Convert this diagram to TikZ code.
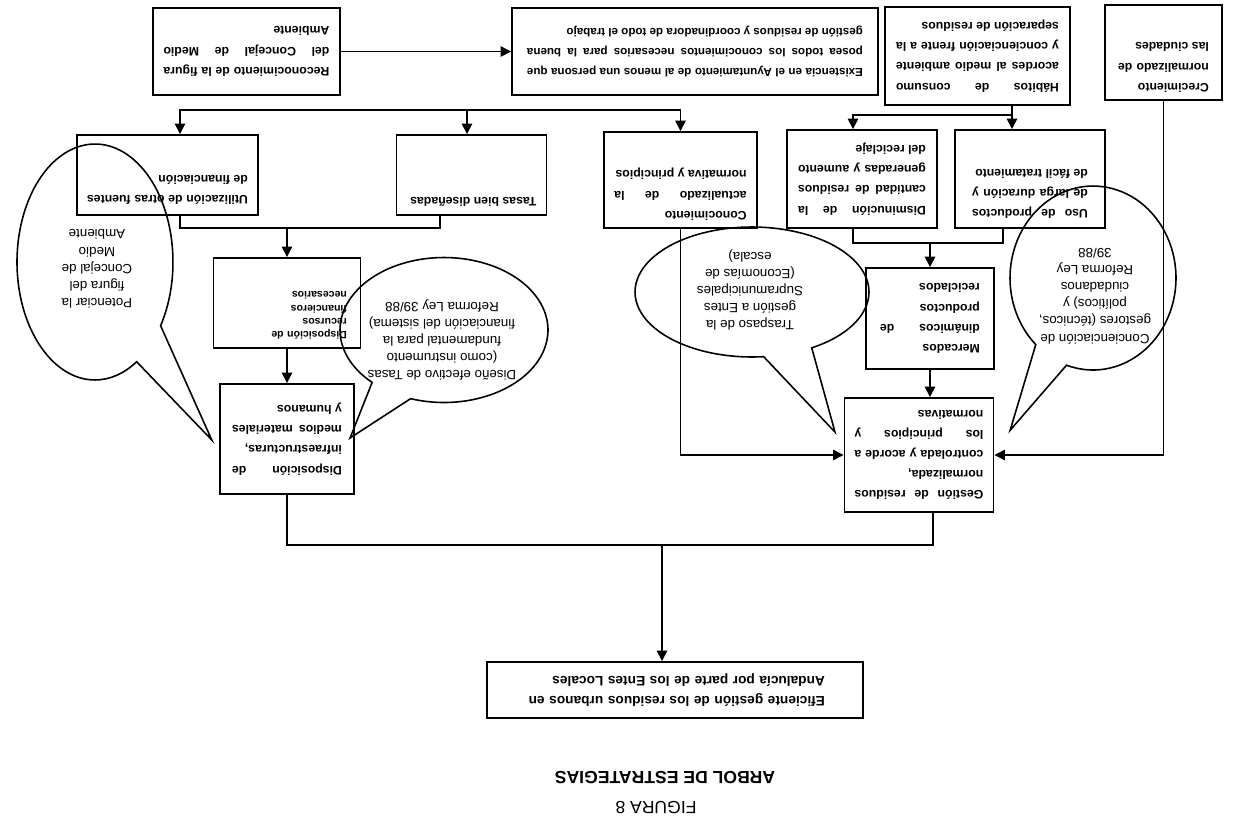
\documentclass[tikz,border=0pt]{standalone}
\usepackage{fontspec}
\setmainfont{Liberation Sans}
\usetikzlibrary{arrows.meta,shapes.geometric,shapes.callouts}

\tikzset{
  caja/.style={draw, line width=1.1pt, align=justify, inner xsep=0.2cm, inner ysep=0.1cm,
    font=\bfseries\fontsize{7}{11.5}\selectfont},
  globo/.style={ellipse callout, draw, line width=0.9pt, inner sep=0pt, callout pointer arc=25},
  globotexto/.style={align=center, inner sep=0pt, font=\fontsize{7.6}{9.8}\selectfont},
  flecha/.style={line width=0.8pt, -{Triangle[length=6pt,width=6pt]}},
  linea/.style={line width=0.8pt}
}
\newcommand{\relleno}[1]{\rule[-#1]{0pt}{#1}}

\begin{document}
\begin{tikzpicture}[x=0.02cm, y=0.02cm]
\begin{scope}[rotate=180, transform shape]
\useasboundingbox (0,0) rectangle (1236,835);

% nivel inferior
\node[caja, text width=3.32cm, minimum width=3.74cm, minimum height=1.74cm] (reco) at (989.5,51.5)
  {Reconocimiento de la figura\linebreak del Concejal de Medio\linebreak Ambiente};
\node[caja, font=\bfseries\fontsize{6.6}{11.5}\selectfont, text width=6.72cm, minimum width=7.32cm, minimum height=1.74cm] (exis) at (541,51.5)
  {Existencia en el Ayuntamiento de al menos una persona que\linebreak posea todos los conocimientos necesarios para la buena\linebreak gestión de residuos y coordinadora de todo el trabajo};
\node[caja, text width=3.26cm, minimum width=3.7cm, minimum height=1.96cm] (habi) at (258.5,56)
  {Hábitos de consumo\linebreak acordes al medio ambiente\linebreak y concienciación frente a la\linebreak separación de residuos};
\node[caja, text width=1.82cm, minimum width=2.34cm, minimum height=1.9cm] (crec) at (72.5,52.5)
  {Crecimiento\linebreak normalizado de\linebreak las ciudades\relleno{0.6cm}};

% segundo nivel
\node[caja, text width=3.22cm, minimum width=3.58cm, minimum height=1.6cm] (util) at (1068.5,175)
  {Utilización de otras fuentes\linebreak de financiación\relleno{0.6cm}};
\node[caja, text width=2.6cm, minimum width=2.86cm, minimum height=1.6cm] (tasa) at (764.5,175)
  {Tasas bien diseñadas\relleno{1.08cm}};
\node[caja, text width=2.65cm, minimum width=2.9cm, minimum height=1.92cm] (cono) at (555.5,180)
  {Conocimiento\linebreak actualizado de la\linebreak normativa y principios\relleno{0.62cm}};
\node[caja, text width=2.56cm, minimum width=3cm, minimum height=1.96cm] (dism) at (374,179)
  {Disminución de la\linebreak cantidad de residuos\linebreak generadas y aumento\linebreak del reciclaje};
\node[caja, text width=2.32cm, minimum width=3cm, minimum height=1.96cm] (uso) at (206,179)
  {Uso de productos\linebreak de larga duración y\linebreak de fácil tratamiento\relleno{0.6cm}};

% tercer nivel
\node[caja, align=left, font=\bfseries\fontsize{6}{7.5}\selectfont, text width=2.4cm,
  minimum width=2.94cm, minimum height=1.8cm] (recu) at (949,303)
  {Disposición de\\recursos\\financieros\\necesarios\relleno{0.5cm}};
\node[caja, text width=2.2cm, minimum width=2.68cm, minimum height=2.2cm] (infr) at (949,439)
  {Disposición de\linebreak infraestructuras,\linebreak medios materiales\linebreak y humanos};
\node[caja, text width=2cm, minimum width=2.56cm, minimum height=2.02cm] (merc) at (306,318.5)
  {Mercados\linebreak dinámicos de\linebreak productos\linebreak reciclados};
\node[caja, text width=2.58cm, minimum width=2.96cm, minimum height=2.28cm] (gest) at (317,455)
  {Gestión de residuos\linebreak normalizada,\linebreak controlada y acorde a\linebreak los principios y\linebreak normativas};

% objetivo
\node[caja, align=left, font=\bfseries\fontsize{7.8}{11.4}\selectfont, text width=6cm,
  minimum width=7.52cm, minimum height=1.12cm] (efic) at (561,690)
  {Eficiente gestión de los residuos urbanos en\\Andalucía por parte de los Entes Locales};
\node[font=\bfseries\fontsize{10}{12}\selectfont] (titulo) at (571,778) {ARBOL DE ESTRATEGIAS};
\node[font=\fontsize{10}{12}\selectfont] (figura) at (580,808) {FIGURA 8};

% globos
\node[globo, minimum width=3.12cm, minimum height=4.72cm, callout relative pointer={(-1.24cm,1.89cm)}] (potenciar) at (1141,262) {};
\node[globotexto] (tpotenciar) at (1139,269)
  {Potenciar la\\figura del\\Concejal de\\Medio\\Ambiente};
\node[globo, minimum width=4.16cm, minimum height=2.9cm, callout relative pointer={(0.8cm,0.92cm)}] (disenio) at (792,330) {};
\node[globotexto] (tdisenio) at (794,340)
  {Diseño efectivo de Tasas\\(como instrumento\\fundamental para la\\financiación del sistema)\\Reforma Ley 39/88};
\node[globo, minimum width=4.68cm, minimum height=2.6cm, callout relative pointer={(-0.93cm,1.57cm)}] (traspaso) at (484,292) {};
\node[globotexto] (ttraspaso) at (486,290)
  {Traspaso de la\\gestión a Entes\\Supramunicipales\\(Economías de\\escala)};
\node[globo, minimum width=3.32cm, minimum height=3.68cm, callout relative pointer={(0.8cm,1.47cm)}] (concien) at (143,278) {};
\node[globotexto] (tconcien) at (141,296)
  {Concienciación de\\gestores (técnicos,\\políticos) y\\ciudadanos\\Reforma Ley\\39/88};

% puntos de paso
\coordinate (rama) at (769,110);
\coordinate (rama2) at (224,115);
\coordinate (junta1) at (949,228);
\coordinate (junta2) at (306,243);
\coordinate (junta3) at (574,545);
\coordinate (xU) at (1056,0);
\coordinate (xT) at (796,0);
\coordinate (xD) at (383,0);
\coordinate (xS) at (233,0);
\coordinate (xG) at (303,0);

% conexiones
\draw[flecha] (reco) -- (exis);
\draw[flecha] (rama) -| (xU |- util.south);
\draw[flecha] (rama) -- (rama |- tasa.south);
\draw[flecha] (rama) -| (cono.south);
\draw[linea] (xU |- util.north) |- (junta1) -| (xT |- tasa.north);
\draw[flecha] (junta1) -- (recu.south);
\draw[flecha] (recu) -- (infr);
\draw[linea] (infr.north) |- (junta3) -| (xG |- gest.north);
\draw[flecha] (junta3) -- (junta3 |- efic.south);

\draw[linea] (rama2 |- habi.north) -- (rama2);
\draw[flecha] (rama2) -- (rama2 |- uso.south);
\draw[flecha] (rama2) -| (xD |- dism.south);
\draw[linea] (xD |- dism.north) |- (junta2) -| (xS |- uso.north);
\draw[flecha] (junta2) -- (merc.south);
\draw[flecha] (merc.north) -- (merc.north |- gest.south);
\draw[flecha] (cono.north) |- (gest.east);
\draw[flecha] (crec.north) |- (gest.west);

\end{scope}
\end{tikzpicture}
\end{document}
